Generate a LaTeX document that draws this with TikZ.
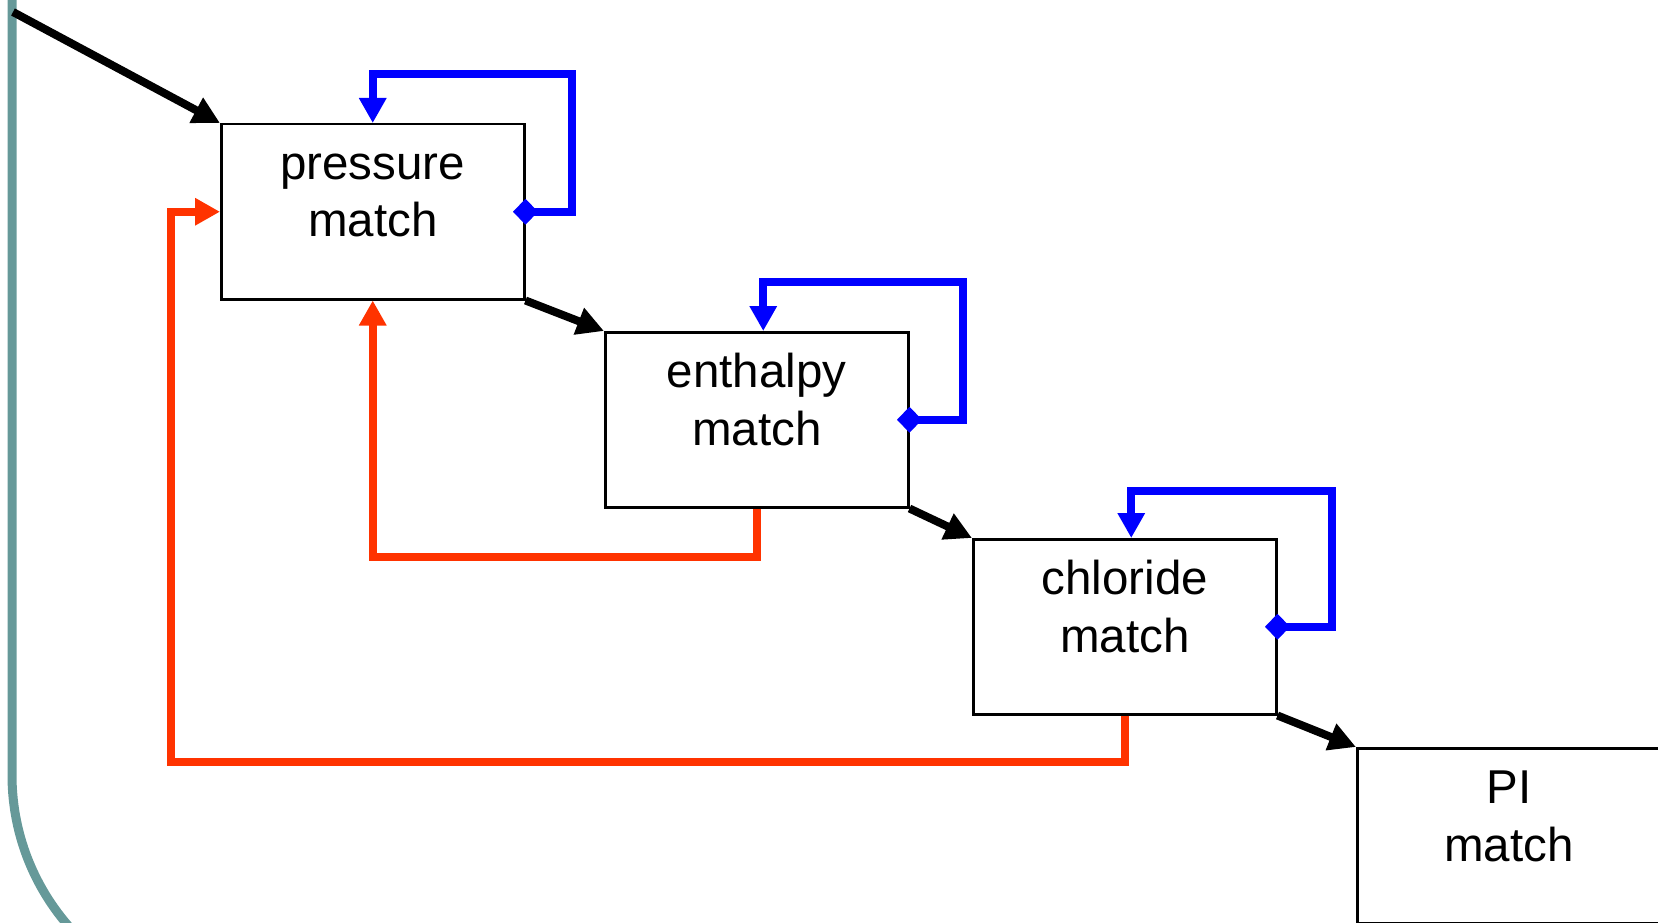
\documentclass[tikz,border=0pt]{standalone}
\usepackage{fontspec}
\setmainfont{Liberation Sans}
\usetikzlibrary{arrows.meta}
\definecolor{frameteal}{HTML}{669999}
\definecolor{loopblue}{HTML}{0000FF}
\definecolor{backred}{HTML}{FF3300}

\begin{document}
\begin{tikzpicture}[x=1pt,y=-1pt,
  stage/.style={draw=black, line width=2.5pt, minimum width=303pt,
    minimum height=175pt, inner sep=0pt, anchor=north west},
  stagetext/.style={text width=300pt, align=center, inner sep=0pt,
    anchor=base, font=\fontsize{47.5}{58}\selectfont},
  flow/.style={draw=black, line width=8pt, -{Triangle[length=27pt,width=27pt]}},
  iterate/.style={draw=loopblue, line width=8pt,
    {Diamond[length=25pt,width=26pt]}-{Triangle[length=25pt,width=26pt]}},
  restart/.style={draw=backred, line width=8pt, -{Triangle[length=25pt,width=26pt]}}
]
\useasboundingbox (0,0) rectangle (1658,923);
\clip (0,0) rectangle (1658,923);

% frame of the page
\draw[frameteal, line width=9pt, rounded corners=230pt]
  (12,-20) -- (12,1005) -- (700,1005);

% stages
\node[stage] (p) at (220,123) {};
\node[stage] (e) at (604,331) {};
\node[stage] (c) at (972,538) {};
\node[stage] (pi) at (1356,747) {};

\node[stagetext] (pt) at ([yshift=-56pt]p.north) {pressure\\match};
\node[stagetext] (et) at ([yshift=-56pt]e.north) {enthalpy\\match};
\node[stagetext] (ct) at ([yshift=-56pt]c.north) {chloride\\match};
\node[stagetext] (pit) at ([yshift=-56pt]pi.north) {PI\\match};

% main flow
\coordinate (entry) at (13,12);
\draw[flow] (entry) -- (p.north west);
\draw[flow] (p.south east) -- (e.north west);
\draw[flow] (e.south east) -- (c.north west);
\draw[flow] (c.south east) -- (pi.north west);

% inner iteration loops
\coordinate (pl) at (572,74);
\draw[iterate] ([xshift=-12.5pt]p.east) -| (pl) -| (p.north);
\coordinate (el) at (963,282);
\draw[iterate] ([xshift=-12.5pt]e.east) -| (el) -| ([xshift=6.5pt]e.north);
\coordinate (cl) at (1332,491);
\draw[iterate] ([xshift=-12.5pt]c.east) -| (cl) -| ([xshift=6.5pt]c.north);

% returns to the first stage
\draw[restart] (e.south) -- ++(0,48) -| (p.south);
\coordinate (rc) at (171,762);
\draw[restart] (c.south) |- (rc) |- (p.west);
\end{tikzpicture}
\end{document}
